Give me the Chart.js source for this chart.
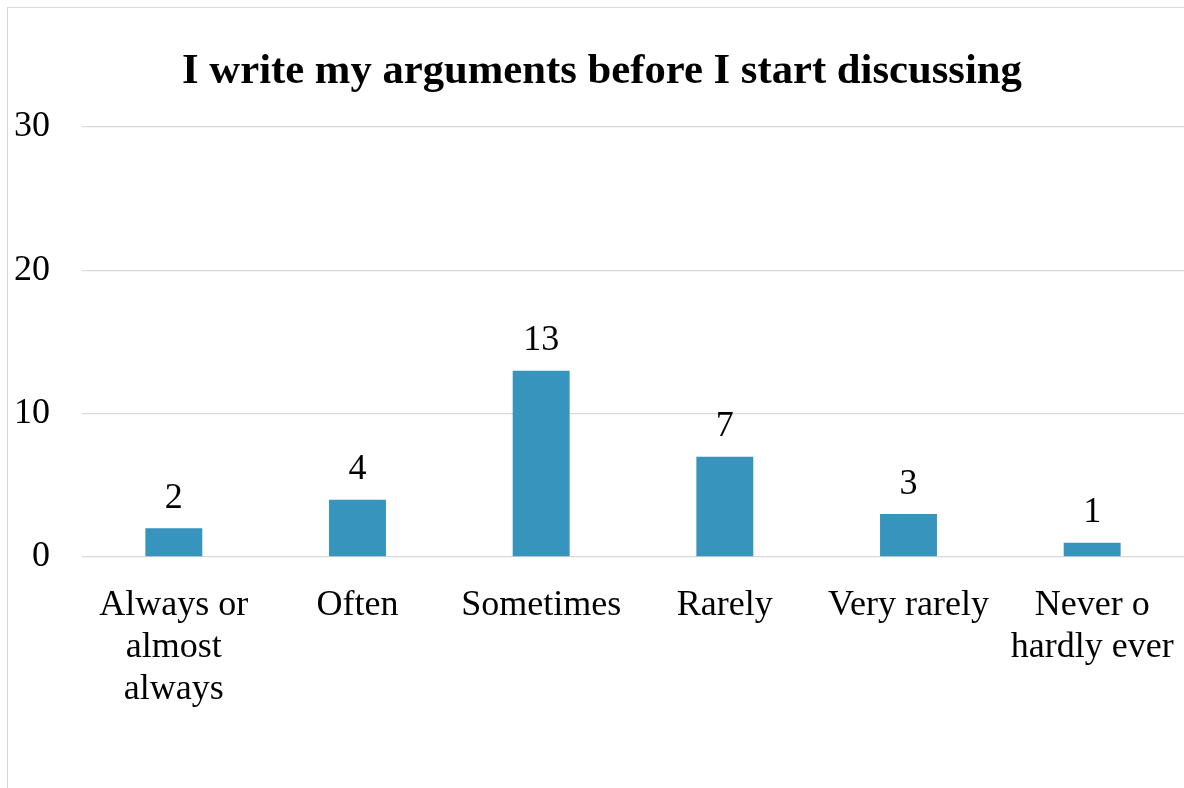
<!DOCTYPE html>
<html>
<head>
<meta charset="utf-8">
<title>I write my arguments before I start discussing</title>
<script src="https://cdn.jsdelivr.net/npm/chart.js@4"></script>
<style>
   html, body {
      margin: 0;
      padding: 0;
      background: #ffffff;
      overflow: hidden;
   }
   #frame {
      position: absolute;
      left: 7px;
      top: 7px;
      width: 1188px;
      height: 800px;
      border: 1px solid #d9d9d9;
   }
   #chartCanvas {
      display: block;
   }
</style>
</head>
<body>
<div id="frame"><canvas id="chartCanvas" width="1188" height="800"></canvas></div>
<script>
/* global Chart */

const TITLE       = 'I write my arguments before I start discussing';
const CATEGORIES  = [
   ['Always or', 'almost', 'always'],
   'Often',
   'Sometimes',
   'Rarely',
   'Very rarely',
   ['Never o', 'hardly ever']
];
const RESPONSES   = [2, 4, 13, 7, 3, 1];
const Y_TICKS     = [0, 10, 20, 30];

const FONT_FAMILY = "'Liberation Serif', 'Times New Roman', Times, serif";
const BAR_COLOR   = '#3795BD';
const GRID_COLOR  = '#d9d9d9';
const TEXT_COLOR  = '#000000';

// writes each bar's value just above it
var valueLabels = {
   id: 'valueLabels',
   afterLayout: function afterLayout(chart) {
      // let the y tick labels use the left padding instead of being clipped by it
      chart.scales.y.left = 0;
   },
   afterDatasetsDraw: function afterDatasetsDraw(chart) {
      var ctx  = chart.ctx;
      var meta = chart.getDatasetMeta(0);
      var data = chart.data.datasets[0].data;

      ctx.save();
      ctx.font         = '36px ' + FONT_FAMILY;
      ctx.fillStyle    = TEXT_COLOR;
      ctx.textAlign    = 'center';
      ctx.textBaseline = 'alphabetic';
      meta.data.forEach((bar, index) => ctx.fillText(String(data[index]), bar.x, bar.y - 20.5));
      ctx.restore();
   }
};

var chartConfig = {
   type: 'bar',
   data: {
      labels: CATEGORIES,
      datasets: [{
         data: RESPONSES,
         backgroundColor: BAR_COLOR,
         borderWidth: 0,
         categoryPercentage: 1,
         barPercentage: 0.31
      }]
   },
   options: {
      responsive: false,
      animation: false,
      devicePixelRatio: 1,
      layout: {
         padding: { left: 12, right: 12, top: 0, bottom: 0 }
      },
      scales: {
         x: {
            grid: { display: false, drawTicks: false },
            border: { display: false },
            ticks: {
               autoSkip: false,
               maxRotation: 0,
               minRotation: 0,
               padding: 27,
               color: TEXT_COLOR,
               font: { family: FONT_FAMILY, size: 36, lineHeight: 1.17 }
            },
            afterFit: function afterFit(scale) {
               scale.height       = 251;
               scale.paddingLeft  = 0;
               scale.paddingRight = 0;
            }
         },
         y: {
            min: 0,
            max: 30,
            afterBuildTicks: function afterBuildTicks(scale) {
               scale.ticks = Y_TICKS.map(value => ({ value: value }));
            },
            grid: { color: GRID_COLOR, lineWidth: 1.3, drawTicks: false },
            border: { display: false },
            ticks: {
               padding: 32,
               color: TEXT_COLOR,
               font: { family: FONT_FAMILY, size: 36 }
            },
            afterFit: function afterFit(scale) {
               scale.width = 62;
            }
         }
      },
      plugins: {
         legend: { display: false },
         tooltip: { enabled: false },
         title: {
            display: true,
            text: TITLE,
            color: TEXT_COLOR,
            font: { family: FONT_FAMILY, size: 42.7, weight: 'bold', lineHeight: 1.2 },
            padding: { top: 38, bottom: 29.8 }
         }
      }
   },
   plugins: [valueLabels]
};

new Chart(document.getElementById('chartCanvas'), chartConfig);
</script>
</body>
</html>
